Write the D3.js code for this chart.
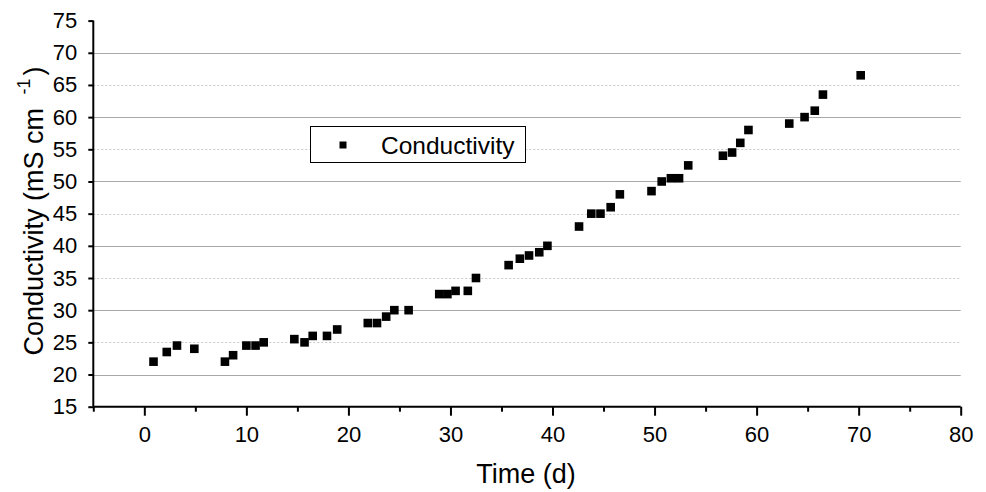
<!DOCTYPE html>
<html>
<head>
<meta charset="utf-8">
<script src="https://cdn.jsdelivr.net/npm/d3@7"></script>
<style>
  html, body { margin: 0; padding: 0; background: #fff; }
  svg { display: block; font-family: "Liberation Sans", Arial, sans-serif; }
</style>
</head>
<body>
<svg id="chart" width="986" height="492"></svg>
<script>
// ---- Data ----
const timeDays = [0.9, 2.2, 3.2, 4.9, 7.9, 8.7, 10.0, 10.9, 11.7, 14.7, 15.7, 16.5, 17.9, 18.9,
  21.9, 22.8, 23.7, 24.5, 25.9, 28.9, 29.7, 30.5, 31.7, 32.5, 35.7, 36.8, 37.7, 38.7, 39.5,
  42.6, 43.8, 44.7, 45.7, 46.6, 49.7, 50.7, 51.6, 52.4, 53.3, 56.7, 57.6, 58.4, 59.2,
  63.2, 64.7, 65.7, 66.5, 70.2];
const conductivity = [22, 23.5, 24.5, 24, 22, 23, 24.5, 24.5, 25, 25.5, 25, 26, 26, 27,
  28, 28, 29, 30, 30, 32.5, 32.5, 33, 33, 35, 37, 38, 38.5, 39, 40,
  43, 45, 45, 46, 48, 48.5, 50, 50.5, 50.5, 52.5, 54, 54.5, 56, 58,
  59, 60, 61, 63.5, 66.5];
const xMajorTicks = [0, 10, 20, 30, 40, 50, 60, 70, 80];
const xMinorTicks = [-5, 5, 15, 25, 35, 45, 55, 65, 75];
const yTicks = [15, 20, 25, 30, 35, 40, 45, 50, 55, 60, 65, 70, 75];
const ySolidGrid = [20, 30, 40, 50, 60, 70];
const yDottedGrid = [25, 35, 45, 55, 65];
const seriesName = "Conductivity";
const xTitle = "Time (d)";

// ---- Layout ----
const svg = d3.select("#chart");
const pLeft = 93.3, pRight = 960.7, pTop = 20.6, pBottom = 406.7;
const x = d3.scaleLinear().domain([-5, 80]).range([pLeft, pRight]);
const y = d3.scaleLinear().domain([15, 75]).range([pBottom, pTop]);

// gridlines
svg.append("g").selectAll("line").data(ySolidGrid).join("line")
  .attr("x1", pLeft).attr("x2", pRight)
  .attr("y1", d => Math.round(y(d)) + 0.5).attr("y2", d => Math.round(y(d)) + 0.5)
  .attr("stroke", "#a8a8a8").attr("stroke-width", 1.2);
svg.append("g").selectAll("line").data(yDottedGrid).join("line")
  .attr("x1", pLeft).attr("x2", pRight)
  .attr("y1", d => Math.round(y(d)) + 0.5).attr("y2", d => Math.round(y(d)) + 0.5)
  .attr("stroke", "#c8c8c8").attr("stroke-width", 1).attr("stroke-dasharray", "2,2");

// axes
const fontSize = 22;
const xAxis = svg.append("g").attr("transform", `translate(0,${pBottom})`)
  .call(d3.axisBottom(x).tickValues(xMajorTicks).tickSize(9).tickPadding(11).tickFormat(d3.format("d")));
const xMinor = svg.append("g").attr("transform", `translate(0,${pBottom})`)
  .call(d3.axisBottom(x).tickValues(xMinorTicks).tickSize(5).tickFormat(""));
xMinor.select(".domain").remove();
const yAxis = svg.append("g").attr("transform", `translate(${pLeft},0)`)
  .call(d3.axisLeft(y).tickValues(yTicks).tickSize(5).tickPadding(11).tickFormat(d3.format("d")));

[xAxis, xMinor, yAxis].forEach(g => {
  g.selectAll(".domain").attr("stroke", "#000").attr("stroke-width", 2);
  g.selectAll(".tick line").attr("stroke", "#000").attr("stroke-width", 2);
  g.selectAll(".tick text").attr("fill", "#000").attr("font-size", fontSize)
    .attr("font-family", "'Liberation Sans', Arial, sans-serif");
});
xAxis.select(".domain").attr("d", `M${pLeft},0H${pRight}`);
yAxis.select(".domain").attr("d", `M0,${pBottom}V${pTop}`);

// points
const pts = timeDays.map((t, i) => ({ t, v: conductivity[i] }));
const ms = 8.6;
svg.append("g").selectAll("rect").data(pts).join("rect")
  .attr("x", d => x(d.t) - ms / 2).attr("y", d => y(d.v) - ms / 2)
  .attr("width", ms).attr("height", ms).attr("fill", "#000");

// legend
const lg = svg.append("g");
lg.append("rect").attr("x", 310.5).attr("y", 126.5).attr("width", 215).attr("height", 36)
  .attr("fill", "#fff").attr("stroke", "#000").attr("stroke-width", 1);
lg.append("rect").attr("x", 343 - 3.5).attr("y", 145 - 3.5).attr("width", 7).attr("height", 7).attr("fill", "#000");
lg.append("text").attr("x", 381).attr("y", 153.5).attr("font-size", 24.5).attr("fill", "#000").text(seriesName);

// axis titles
svg.append("text").attr("x", 526).attr("y", 483).attr("text-anchor", "middle")
  .attr("font-size", 27).attr("fill", "#000").text(xTitle);

const yt = svg.append("text").attr("transform", `translate(43,211) rotate(-90)`)
  .attr("text-anchor", "middle").attr("font-size", 27).attr("fill", "#000");
yt.append("tspan").text("Conductivity (mS cm ");
yt.append("tspan").attr("dx", 6).attr("dy", -13).attr("font-size", 18).text("-1");
yt.append("tspan").attr("dx", 3).attr("dy", 13).text(")");
</script>
</body>
</html>
